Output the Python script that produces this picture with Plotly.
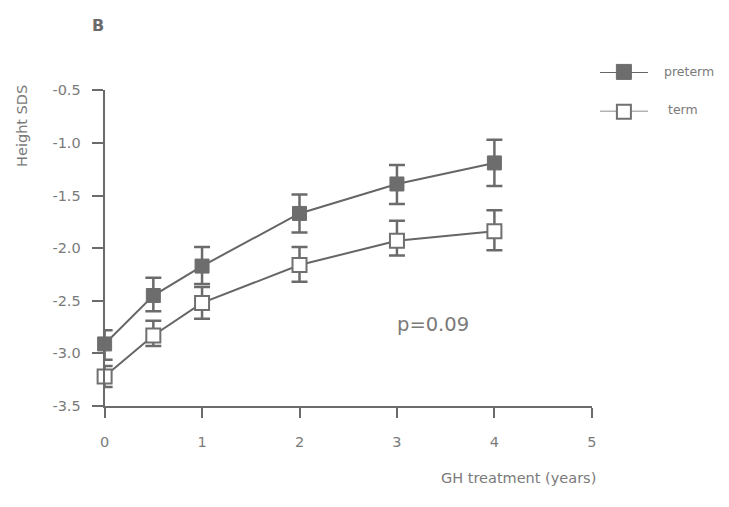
import plotly.graph_objects as go

# ---- data ----
years = [0, 0.5, 1, 2, 3, 4]
preterm = [-2.91, -2.45, -2.17, -1.67, -1.39, -1.19]
preterm_err_up = [0.13, 0.17, 0.18, 0.18, 0.18, 0.22]
preterm_err_down = [0.15, 0.15, 0.17, 0.18, 0.19, 0.22]
term = [-3.22, -2.83, -2.52, -2.16, -1.93, -1.84]
term_err_up = [0.10, 0.14, 0.15, 0.17, 0.19, 0.20]
term_err_down = [0.10, 0.10, 0.15, 0.16, 0.14, 0.18]

x_ticks = [0, 1, 2, 3, 4, 5]
y_ticks = [-3.5, -3.0, -2.5, -2.0, -1.5, -1.0, -0.5]
y_tick_labels = ["-3.5", "-3.0", "-2.5", "-2.0", "-1.5", "-1.0", "-0.5"]

AX = "#6b6b6b"
TXT = "#7a7a7a"
FONT = "DejaVu Sans, Verdana, sans-serif"

W, H = 729, 507


def px(v):
    return v / W


def py(v):
    return 1 - v / H


fig = go.Figure()

fig.add_trace(go.Scatter(
    x=years, y=term, mode="lines+markers", name="term",
    line=dict(color="#666666", width=2),
    marker=dict(symbol="square", size=14, color="white",
                line=dict(color="#707070", width=2)),
    error_y=dict(type="data", symmetric=False, array=term_err_up,
                 arrayminus=term_err_down, color=AX, thickness=2.5, width=8),
    showlegend=False, cliponaxis=False,
))
fig.add_trace(go.Scatter(
    x=years, y=preterm, mode="lines+markers", name="preterm",
    line=dict(color="#666666", width=2),
    marker=dict(symbol="square", size=14, color="#6d6d6d",
                line=dict(color="#6d6d6d", width=1)),
    error_y=dict(type="data", symmetric=False, array=preterm_err_up,
                 arrayminus=preterm_err_down, color=AX, thickness=2.5, width=8),
    showlegend=False, cliponaxis=False,
))

# legend glyphs drawn on an auxiliary axis
leg_line_x = [0, 1]
leg_mark_x = [0.5]
for yv, fill, lw, sz in [(1, "#6d6d6d", 1, 15), (0, "white", 2, 14)]:
    fig.add_trace(go.Scatter(
        x=leg_line_x, y=[yv, yv], xaxis="x2", yaxis="y2", mode="lines",
        line=dict(color="#666666", width=2),
        showlegend=False, hoverinfo="skip", cliponaxis=False,
    ))
    fig.add_trace(go.Scatter(
        x=leg_mark_x, y=[yv], xaxis="x2", yaxis="y2", mode="markers",
        marker=dict(symbol="square", size=sz, color=fill,
                    line=dict(color="#6d6d6d" if fill != "white" else "#707070", width=lw)),
        showlegend=False, hoverinfo="skip", cliponaxis=False,
    ))

fig.update_layout(
    width=W, height=H,
    margin=dict(l=0, r=0, t=0, b=0),
    paper_bgcolor="white", plot_bgcolor="white",
    font=dict(family=FONT, color=TXT, size=14),
    xaxis=dict(domain=[px(101), px(595)], range=[0, 5], tickvals=x_ticks,
               showgrid=False, zeroline=False,
               showline=True, linecolor=AX, linewidth=2,
               ticks="outside", ticklen=10, tickwidth=2, tickcolor=AX,
               ticklabelstandoff=12, tickfont=dict(size=14.5, color=TXT)),
    yaxis=dict(domain=[py(411), py(85)], range=[-3.5, -0.5], tickvals=y_ticks,
               ticktext=y_tick_labels, showgrid=False, zeroline=False,
               showline=True, linecolor=AX, linewidth=2,
               ticks="outside", ticklen=11, tickwidth=2, tickcolor=AX,
               ticklabelstandoff=8, tickfont=dict(size=14.5, color=TXT)),
    xaxis2=dict(domain=[px(603), px(652)], range=[0, 1], visible=False, anchor="y2"),
    yaxis2=dict(domain=[py(107), py(66)], range=[0, 1], visible=False, anchor="x2"),
    showlegend=False,
)

annos = [
    dict(x=94, y=18, text="<b>B</b>", size=16, xa="center", rot=0, c="#6a6a6a"),
    dict(x=17, y=122, text="Height SDS", size=14.5, xa="center", rot=-90, c=TXT),
    dict(x=521, y=485, text="GH treatment (years)", size=14.5, xa="center", rot=0, c=TXT),
    dict(x=434, y=327, text="p=0.09", size=19.5, xa="center", rot=0, c=TXT),
    dict(x=666, y=66, text="preterm", size=12.5, xa="left", rot=0, c=TXT),
    dict(x=670, y=105, text="term", size=12.5, xa="left", rot=0, c=TXT),
]
for a in annos:
    fig.add_annotation(
        x=px(a["x"]), y=py(a["y"]), xref="paper", yref="paper",
        text=a["text"], showarrow=False,
        xanchor=a["xa"], yanchor="middle", textangle=a["rot"],
        font=dict(size=a["size"], color=a["c"]),
    )

fig.write_html("out.html")
